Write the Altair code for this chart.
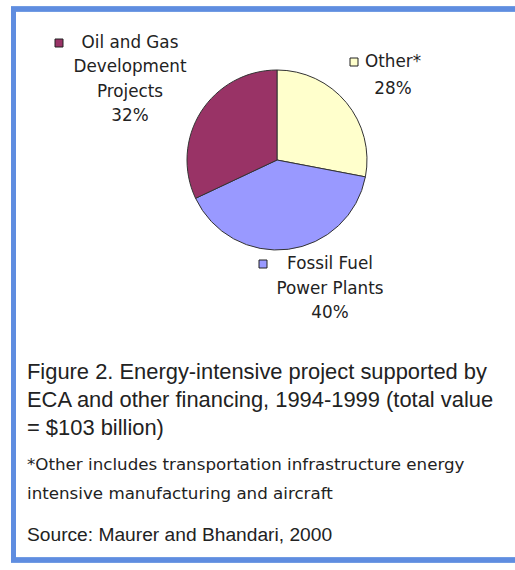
import altair as alt
import pandas as pd

# ---- data ----
categories = ["Other*", "Fossil Fuel Power Plants", "Oil and Gas Development Projects"]
shares = [28, 40, 32]
name_lines = [["Other*"], ["Fossil Fuel", "Power Plants"], ["Oil and Gas", "Development", "Projects"]]
slice_colors = ["#FFFFCC", "#9999FF", "#993366"]
caption_lines = [
    "Figure 2. Energy-intensive project supported by",
    "ECA and other financing, 1994-1999 (total value",
    "= $103 billion)",
]
footnote_lines = [
    "*Other includes transportation infrastructure energy",
    "intensive manufacturing and aircraft",
]
source_line = "Source: Maurer and Bhandari, 2000"

# ---- layout (pixels) ----
W, H = 515, 570
FONT = "DejaVu Sans"
CAPTION_FONT = "Liberation Sans"
TEXT_COLOR = "#222222"
pie_cx, pie_cy, pie_r = 277, 160, 90
# per category: label centre x, first line y, line height, square x
label_layout = [
    (393, 62, 27, 354),
    (330, 264, 24.5, 263),
    (130, 43, 24.3, 59),
]

pie_df = pd.DataFrame({"category": categories, "share": shares, "order": list(range(len(categories)))})
color_scale = alt.Scale(domain=categories, range=slice_colors)

pie = alt.Chart(pie_df).mark_arc(radius=pie_r, stroke="#333333", strokeWidth=1).encode(
    theta=alt.Theta("share:Q", stack=True),
    order=alt.Order("order:Q"),
    color=alt.Color("category:N", scale=color_scale, legend=None),
    x=alt.value(pie_cx),
    y=alt.value(pie_cy),
)

rows = []
sq_rows = []
for cat, share, names, (lx, ly, lh, sx) in zip(categories, shares, name_lines, label_layout):
    lines = names + [f"{share}%"]
    for i, t in enumerate(lines):
        rows.append({"text": t, "x": lx, "y": ly + i * lh})
    sq_rows.append({"category": cat, "x": sx, "y": ly})
labels_df = pd.DataFrame(rows)
squares_df = pd.DataFrame(sq_rows)

labels = alt.Chart(labels_df).mark_text(
    font=FONT, fontSize=16.8, align="center", baseline="middle", color=TEXT_COLOR
).encode(
    x=alt.X("x:Q", scale=None, axis=None),
    y=alt.Y("y:Q", scale=None, axis=None),
    text="text:N",
)

squares = alt.Chart(squares_df).mark_square(size=64, opacity=1, stroke="#222222", strokeWidth=1).encode(
    x=alt.X("x:Q", scale=None, axis=None),
    y=alt.Y("y:Q", scale=None, axis=None),
    fill=alt.Fill("category:N", scale=color_scale, legend=None),
)

cap_df = pd.DataFrame({"text": caption_lines, "x": [27] * 3, "y": [372, 400, 428]})
caption = alt.Chart(cap_df).mark_text(
    font=CAPTION_FONT, fontSize=21.9, align="left", baseline="middle", color=TEXT_COLOR
).encode(
    x=alt.X("x:Q", scale=None, axis=None),
    y=alt.Y("y:Q", scale=None, axis=None),
    text="text:N",
)

foot_df = pd.DataFrame({"text": footnote_lines, "x": [27] * 2, "y": [465, 494]})
foot = alt.Chart(foot_df).mark_text(
    font=FONT, fontSize=16.7, align="left", baseline="middle", color=TEXT_COLOR
).encode(
    x=alt.X("x:Q", scale=None, axis=None),
    y=alt.Y("y:Q", scale=None, axis=None),
    text="text:N",
)

src_df = pd.DataFrame({"text": [source_line], "x": [27], "y": [535]})
src = alt.Chart(src_df).mark_text(
    font=CAPTION_FONT, fontSize=19.2, align="left", baseline="middle", color=TEXT_COLOR
).encode(
    x=alt.X("x:Q", scale=None, axis=None),
    y=alt.Y("y:Q", scale=None, axis=None),
    text="text:N",
)

border = alt.Chart(pie_df).mark_rect(fillOpacity=0, stroke="#5f8de0", strokeWidth=5).encode(
    x=alt.value(13.5), x2=alt.value(560), y=alt.value(9), y2=alt.value(560)
)

chart = alt.layer(border, pie, squares, labels, caption, foot, src).properties(
    width=W, height=H, autosize=alt.AutoSizeParams(type="none"), padding=0, background="white"
).configure_view(stroke=None)

chart.save("out.html", embed_options={"renderer": "svg", "actions": False})
